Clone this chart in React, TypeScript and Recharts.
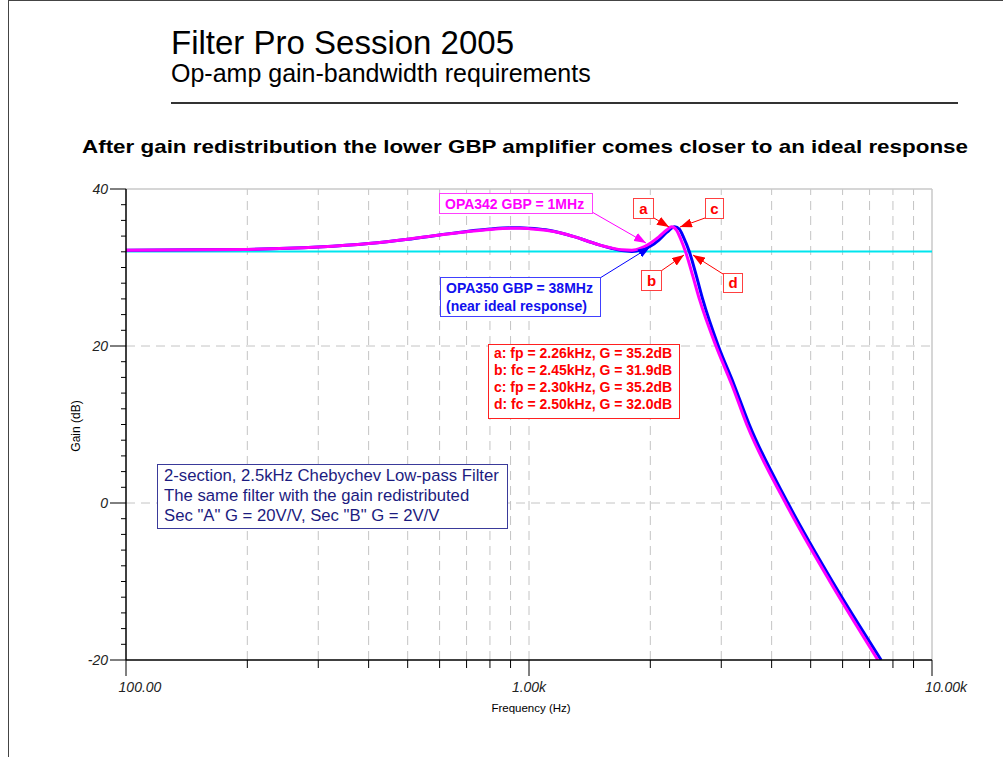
import React from 'react';
import { LineChart, Line, XAxis, YAxis, ReferenceLine } from 'recharts';

// OPA342 (GBP = 1MHz) response
const magFreq = [100, 150, 200, 300, 400, 500, 600, 700, 800, 900, 950, 1000, 1100, 1200, 1300, 1400, 1500, 1600, 1700, 1800, 1900, 2000, 2100, 2200, 2260, 2320, 2380, 2450, 2550, 2650, 2910, 3190, 3470, 4330, 5580, 7340];
const magGain = [32.2, 32.25, 32.3, 32.6, 33.05, 33.6, 34.15, 34.55, 34.85, 35.0, 35.0, 34.95, 34.75, 34.4, 33.9, 33.35, 32.85, 32.5, 32.25, 32.2, 32.5, 33.1, 33.9, 34.8, 35.2, 34.8, 33.6, 31.9, 28.9, 25.9, 20.0, 15.0, 10.0, 0.0, -10.0, -20.0];

// OPA350 (GBP = 38MHz) response
const blueFreq = [100, 150, 200, 300, 400, 500, 600, 700, 800, 900, 950, 1000, 1100, 1200, 1300, 1400, 1500, 1600, 1700, 1800, 1900, 2000, 2100, 2200, 2300, 2360, 2420, 2500, 2600, 2700, 2950, 3220, 3520, 4390, 5660, 7480];
const blueGain = [32.2, 32.25, 32.3, 32.6, 33.05, 33.6, 34.15, 34.6, 34.9, 35.05, 35.05, 35.0, 34.8, 34.4, 33.9, 33.35, 32.85, 32.45, 32.15, 32.05, 32.25, 32.7, 33.5, 34.5, 35.2, 34.9, 33.8, 32.0, 29.0, 25.9, 20.0, 15.2, 10.0, 0.0, -10.0, -20.0];

// ideal passband gain
const idealFreq = [100, 10000];
const idealGain = [32.04, 32.04];

const xTicks = [100, 200, 300, 400, 500, 600, 700, 800, 900, 1000, 2000, 3000, 4000, 5000, 6000, 7000, 8000, 9000, 10000];
const xLabels: Record<number, string> = { 100: '100.00', 1000: '1.00k', 10000: '10.00k' };
const yTicks = [-20, -18, -16, -14, -12, -10, -8, -6, -4, -2, 0, 2, 4, 6, 8, 10, 12, 14, 16, 18, 20, 22, 24, 26, 28, 30, 32, 34, 36, 38, 40];
const yLabels = [-20, 0, 20, 40];
const gridX = [200, 300, 400, 500, 600, 700, 800, 900, 1000, 2000, 3000, 4000, 5000, 6000, 7000, 8000, 9000];
const gridY = [0, 20];

const infoLines = [
  'a: fp = 2.26kHz, G = 35.2dB',
  'b: fc = 2.45kHz, G = 31.9dB',
  'c: fp = 2.30kHz, G = 35.2dB',
  'd: fc = 2.50kHz, G = 32.0dB',
];
const noteLines = [
  '2-section, 2.5kHz Chebychev Low-pass Filter',
  'The same filter with the gain redistributed',
  'Sec "A" G = 20V/V, Sec "B" G = 2V/V',
];

const FONT = '"Liberation Sans", Arial, Helvetica, sans-serif';
const PLOT_LEFT = 126;
const PLOT_BOTTOM = 660;

const toPts = (f: number[], g: number[]) => f.map((v, i) => ({ f: v, g: g[i] }));
const magData = toPts(magFreq, magGain);
const blueData = toPts(blueFreq, blueGain);
const idealData = toPts(idealFreq, idealGain);

function XTick(props: any) {
  const { x, payload } = props;
  const v = payload.value;
  const label = xLabels[v];
  const len = label ? 16 : 8;
  const dx = v === 1000 ? 0 : 14;
  return (
    <g>
      <line x1={x} x2={x} y1={PLOT_BOTTOM} y2={PLOT_BOTTOM + len} stroke="#000" strokeWidth={1} />
      {label && (
        <text x={x + dx} y={PLOT_BOTTOM + 32} textAnchor="middle" fontSize={14} fontStyle="italic" fill="#222" fontFamily={FONT}>
          {label}
        </text>
      )}
    </g>
  );
}

function YTick(props: any) {
  const { y, payload } = props;
  const v = payload.value;
  const major = yLabels.includes(v);
  const len = major ? 16 : 5;
  return (
    <g>
      <line x1={PLOT_LEFT - len} x2={PLOT_LEFT} y1={y} y2={y} stroke="#000" strokeWidth={1} />
      {major && (
        <text x={PLOT_LEFT - 18} y={y + 5} textAnchor="end" fontSize={14} fontStyle="italic" fill="#222" fontFamily={FONT}>
          {v}
        </text>
      )}
    </g>
  );
}

function Box({ x, y, w, h, label, color, border }: any) {
  return (
    <g>
      <rect x={x} y={y} width={w} height={h} fill="#fff" stroke={border} strokeWidth={1} />
      <text x={x + w / 2} y={y + h / 2 + 5} textAnchor="middle" fontSize={15} fontWeight="bold" fill={color} fontFamily={FONT}>
        {label}
      </text>
    </g>
  );
}

export default function App() {
  return (
    <div style={{ position: 'absolute', left: 0, top: 0, width: 1003, height: 757, background: '#fff', fontFamily: FONT }}>
      <LineChart width={1003} height={757} margin={{ top: 189, right: 71, bottom: 66, left: 66 }}>
        {gridX.map((g) => (
          <ReferenceLine key={'gx' + g} x={g} stroke="#c4c4c4" strokeDasharray="9 6" strokeWidth={1} />
        ))}
        {gridY.map((g) => (
          <ReferenceLine key={'gy' + g} y={g} stroke="#c4c4c4" strokeDasharray="9 6" strokeWidth={1} />
        ))}
        <ReferenceLine y={40} stroke="#c8c8c8" strokeWidth={1.5} />
        <ReferenceLine x={10000} stroke="#c8c8c8" strokeWidth={1.5} />
        <XAxis
          type="number"
          dataKey="f"
          scale="log"
          domain={[100, 10000]}
          ticks={xTicks}
          allowDataOverflow
          height={31}
          tickLine={false}
          axisLine={{ stroke: '#000', strokeWidth: 1.5 }}
          tick={<XTick />}
          interval={0}
        />
        <YAxis
          type="number"
          dataKey="g"
          domain={[-20, 40]}
          ticks={yTicks}
          allowDataOverflow
          width={60}
          tickLine={false}
          axisLine={{ stroke: '#000', strokeWidth: 1.5 }}
          tick={<YTick />}
          interval={0}
        />
        <Line data={idealData} dataKey="g" type="linear" stroke="#00e5ee" strokeWidth={2} dot={false} isAnimationActive={false} />
        <Line data={blueData} dataKey="g" type="monotone" stroke="#0000ff" strokeWidth={3} dot={false} isAnimationActive={false} />
        <Line data={magData} dataKey="g" type="monotone" stroke="#ff00ff" strokeWidth={3} dot={false} isAnimationActive={false} />
      </LineChart>

      <svg width={1003} height={757} style={{ position: 'absolute', left: 0, top: 0, pointerEvents: 'none' }}>
        <defs>
          <marker id="ahM" markerWidth={12} markerHeight={9} refX={12} refY={4.5} orient="auto" markerUnits="userSpaceOnUse">
            <path d="M0,0 L12,4.5 L0,9 z" fill="#ff00ff" />
          </marker>
          <marker id="ahB" markerWidth={12} markerHeight={9} refX={12} refY={4.5} orient="auto" markerUnits="userSpaceOnUse">
            <path d="M0,0 L12,4.5 L0,9 z" fill="#0000ff" />
          </marker>
          <marker id="ahR" markerWidth={12} markerHeight={9} refX={12} refY={4.5} orient="auto" markerUnits="userSpaceOnUse">
            <path d="M0,0 L12,4.5 L0,9 z" fill="#ff0000" />
          </marker>
        </defs>

        {/* page frame */}
        <line x1={8.5} y1={0} x2={8.5} y2={757} stroke="#444" strokeWidth={1} />
        <line x1={8} y1={0.5} x2={1003} y2={0.5} stroke="#444" strokeWidth={1} />

        <text x={171} y={54} fontSize={33} fill="#000" fontFamily={FONT}>Filter Pro Session 2005</text>
        <text x={171} y={82} fontSize={25} fill="#000" fontFamily={FONT}>Op-amp gain-bandwidth requirements</text>
        <line x1={171} y1={103} x2={958} y2={103} stroke="#333" strokeWidth={2} />

        <text x={82} y={153} fontSize={19} fontWeight="bold" fill="#000" fontFamily={FONT} textLength={886} lengthAdjust="spacingAndGlyphs">
          After gain redistribution the lower GBP amplifier comes closer to an ideal response
        </text>

        <text x={80} y={426} textAnchor="middle" fontSize={12} fill="#000" fontFamily={FONT} transform="rotate(-90 80 426)">
          Gain (dB)
        </text>
        <text x={531} y={712} textAnchor="middle" fontSize={11.5} fill="#000" fontFamily={FONT}>
          Frequency (Hz)
        </text>

        {/* OPA342 callout */}
        <line x1={592} y1={212} x2={646} y2={243} stroke="#ff00ff" strokeWidth={1} markerEnd="url(#ahM)" />
        <rect x={439.5} y={193.5} width={153} height={20} fill="#fff" stroke="#ff40ff" strokeWidth={1} />
        <text x={445} y={208.5} fontSize={14} fontWeight="bold" fill="#ff00ff" fontFamily={FONT}>OPA342 GBP = 1MHz</text>

        {/* OPA350 callout */}
        <line x1={600} y1={278} x2={650} y2={247} stroke="#0000ff" strokeWidth={1} markerEnd="url(#ahB)" />
        <rect x={440.5} y={277.5} width={160} height={39} fill="#fff" stroke="#4040ff" strokeWidth={1} />
        <text x={446} y={292.5} fontSize={14} fontWeight="bold" fill="#1010ee" fontFamily={FONT}>OPA350 GBP = 38MHz</text>
        <text x={446} y={310.5} fontSize={14} fontWeight="bold" fill="#1010ee" fontFamily={FONT}>(near ideal response)</text>

        {/* point markers */}
        <line x1={654} y1={218} x2={669} y2={227} stroke="#ff0000" strokeWidth={1} markerEnd="url(#ahR)" />
        <line x1={705} y1={218} x2={680} y2={227} stroke="#ff0000" strokeWidth={1} markerEnd="url(#ahR)" />
        <line x1={661} y1={271} x2={684} y2={255} stroke="#ff0000" strokeWidth={1} markerEnd="url(#ahR)" />
        <line x1={723} y1={274} x2={693} y2={255} stroke="#ff0000" strokeWidth={1} markerEnd="url(#ahR)" />
        <Box x={633.5} y={198.5} w={20} h={20} label="a" color="#ff0000" border="#ff4040" />
        <Box x={705.5} y={198.5} w={18} h={20} label="c" color="#ff0000" border="#ff4040" />
        <Box x={641.5} y={270.5} w={20} h={20} label="b" color="#ff0000" border="#ff4040" />
        <Box x={723.5} y={273.5} w={19} h={19} label="d" color="#ff0000" border="#ff4040" />

        {/* measurement box */}
        <rect x={488.5} y={344.5} width={191} height={74} fill="#fff" stroke="#ff2020" strokeWidth={1} />
        {infoLines.map((t, i) => (
          <text key={t} x={494} y={358 + i * 17} fontSize={14} fontWeight="bold" fill="#ff0000" fontFamily={FONT}>{t}</text>
        ))}

        {/* description box */}
        <rect x={157.5} y={464.5} width={350} height={64} fill="#fff" stroke="#3a3a9a" strokeWidth={1} />
        {noteLines.map((t, i) => (
          <text key={t} x={164} y={481 + i * 20} fontSize={16.7} fill="#1c1c80" fontFamily={FONT}>{t}</text>
        ))}
      </svg>
    </div>
  );
}
